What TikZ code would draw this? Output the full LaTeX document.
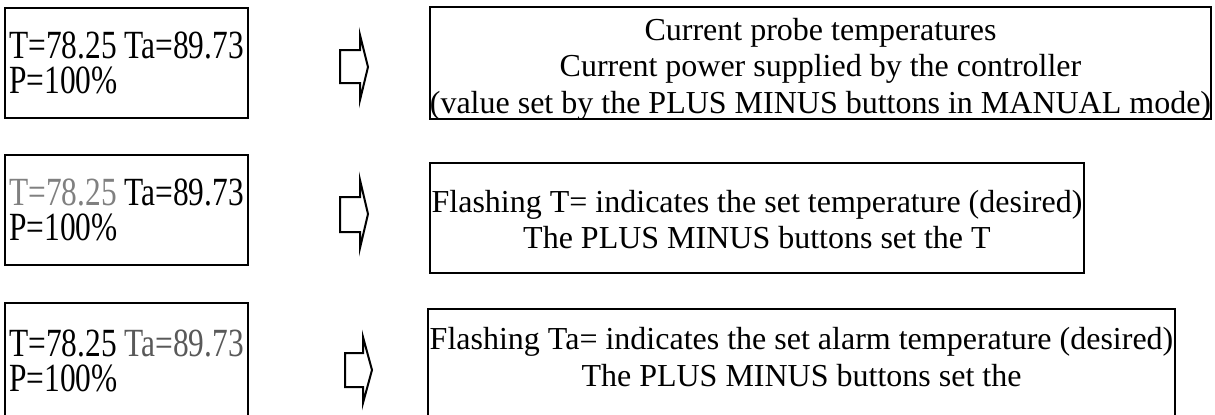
\documentclass[tikz,border=0pt]{standalone}
\usepackage{fontspec}
\setmainfont{Liberation Serif}
\newfontfamily\lcdfont[FakeStretch=0.785]{Liberation Serif}
\definecolor{flashgray}{gray}{0.5}
\definecolor{flashdark}{gray}{0.35}
\tikzset{
  lcdbox/.style={draw=black, line width=1pt, minimum width=121.5pt, align=left,
    inner sep=0pt, font={\lcdfont\fontsize{20}{17.5}\selectfont}},
  infobox/.style={draw=black, line width=1pt, inner sep=0pt},
  infotext/.style={align=center, inner sep=0pt, anchor=north,
    font={\fontsize{16}{18.4}\selectfont}},
  blockarrow/.style={draw=black, line width=1pt, line join=miter}
}
\begin{document}
\begin{tikzpicture}[x=0.5pt, y=-0.5pt]
    \clip (0,0) rectangle (1215,414);

    % display screens
    \node[lcdbox, minimum height=55pt] (lcd1) at (126.5,63) {T=78.25 Ta=89.73\\P=100\%};
    \node[lcdbox, minimum height=55pt] (lcd2) at (126.5,210) {\textcolor{flashgray}{T=78.25} Ta=89.73\\P=100\%};
    \node[lcdbox, minimum height=57.5pt] (lcd3) at (126.5,360.5) {T=78.25 \textcolor{flashdark}{Ta=89.73}\\P=100\%};

    % arrows
    \draw[blockarrow] (340,50) -- (360,50) -- (360,35) -- (368,67) -- (360,100) -- (360,83) -- (340,83) -- cycle;
    \draw[blockarrow] (340,197) -- (360,197) -- (360,180) -- (368,214) -- (360,248) -- (360,232) -- (340,232) -- cycle;
    \draw[blockarrow] (345,353) -- (363,353) -- (363,337) -- (372,370) -- (363,403) -- (363,387) -- (345,387) -- cycle;

    % explanations
    \node[infobox, minimum width=390.5pt, minimum height=56pt] (info1) at (820.5,63) {};
    \node[infobox, minimum width=327pt, minimum height=55pt] (info2) at (757,218) {};
    \node[infobox, minimum width=373.5pt, minimum height=57.5pt] (info3) at (801.5,366.5) {};

    \node[infotext] (text1) at (820.5,17.4) {Current probe temperatures\\Current power supplied by the controller\\(value set by the PLUS MINUS buttons in MANUAL mode)};
    \node[infotext] (text2) at (757,189.5) {Flashing T= indicates the set temperature (desired)\\The PLUS MINUS buttons set the T};
    \node[infotext] (text3) at (801.5,326.8) {Flashing Ta= indicates the set alarm temperature (desired)\\The PLUS MINUS buttons set the};
\end{tikzpicture}
\end{document}
